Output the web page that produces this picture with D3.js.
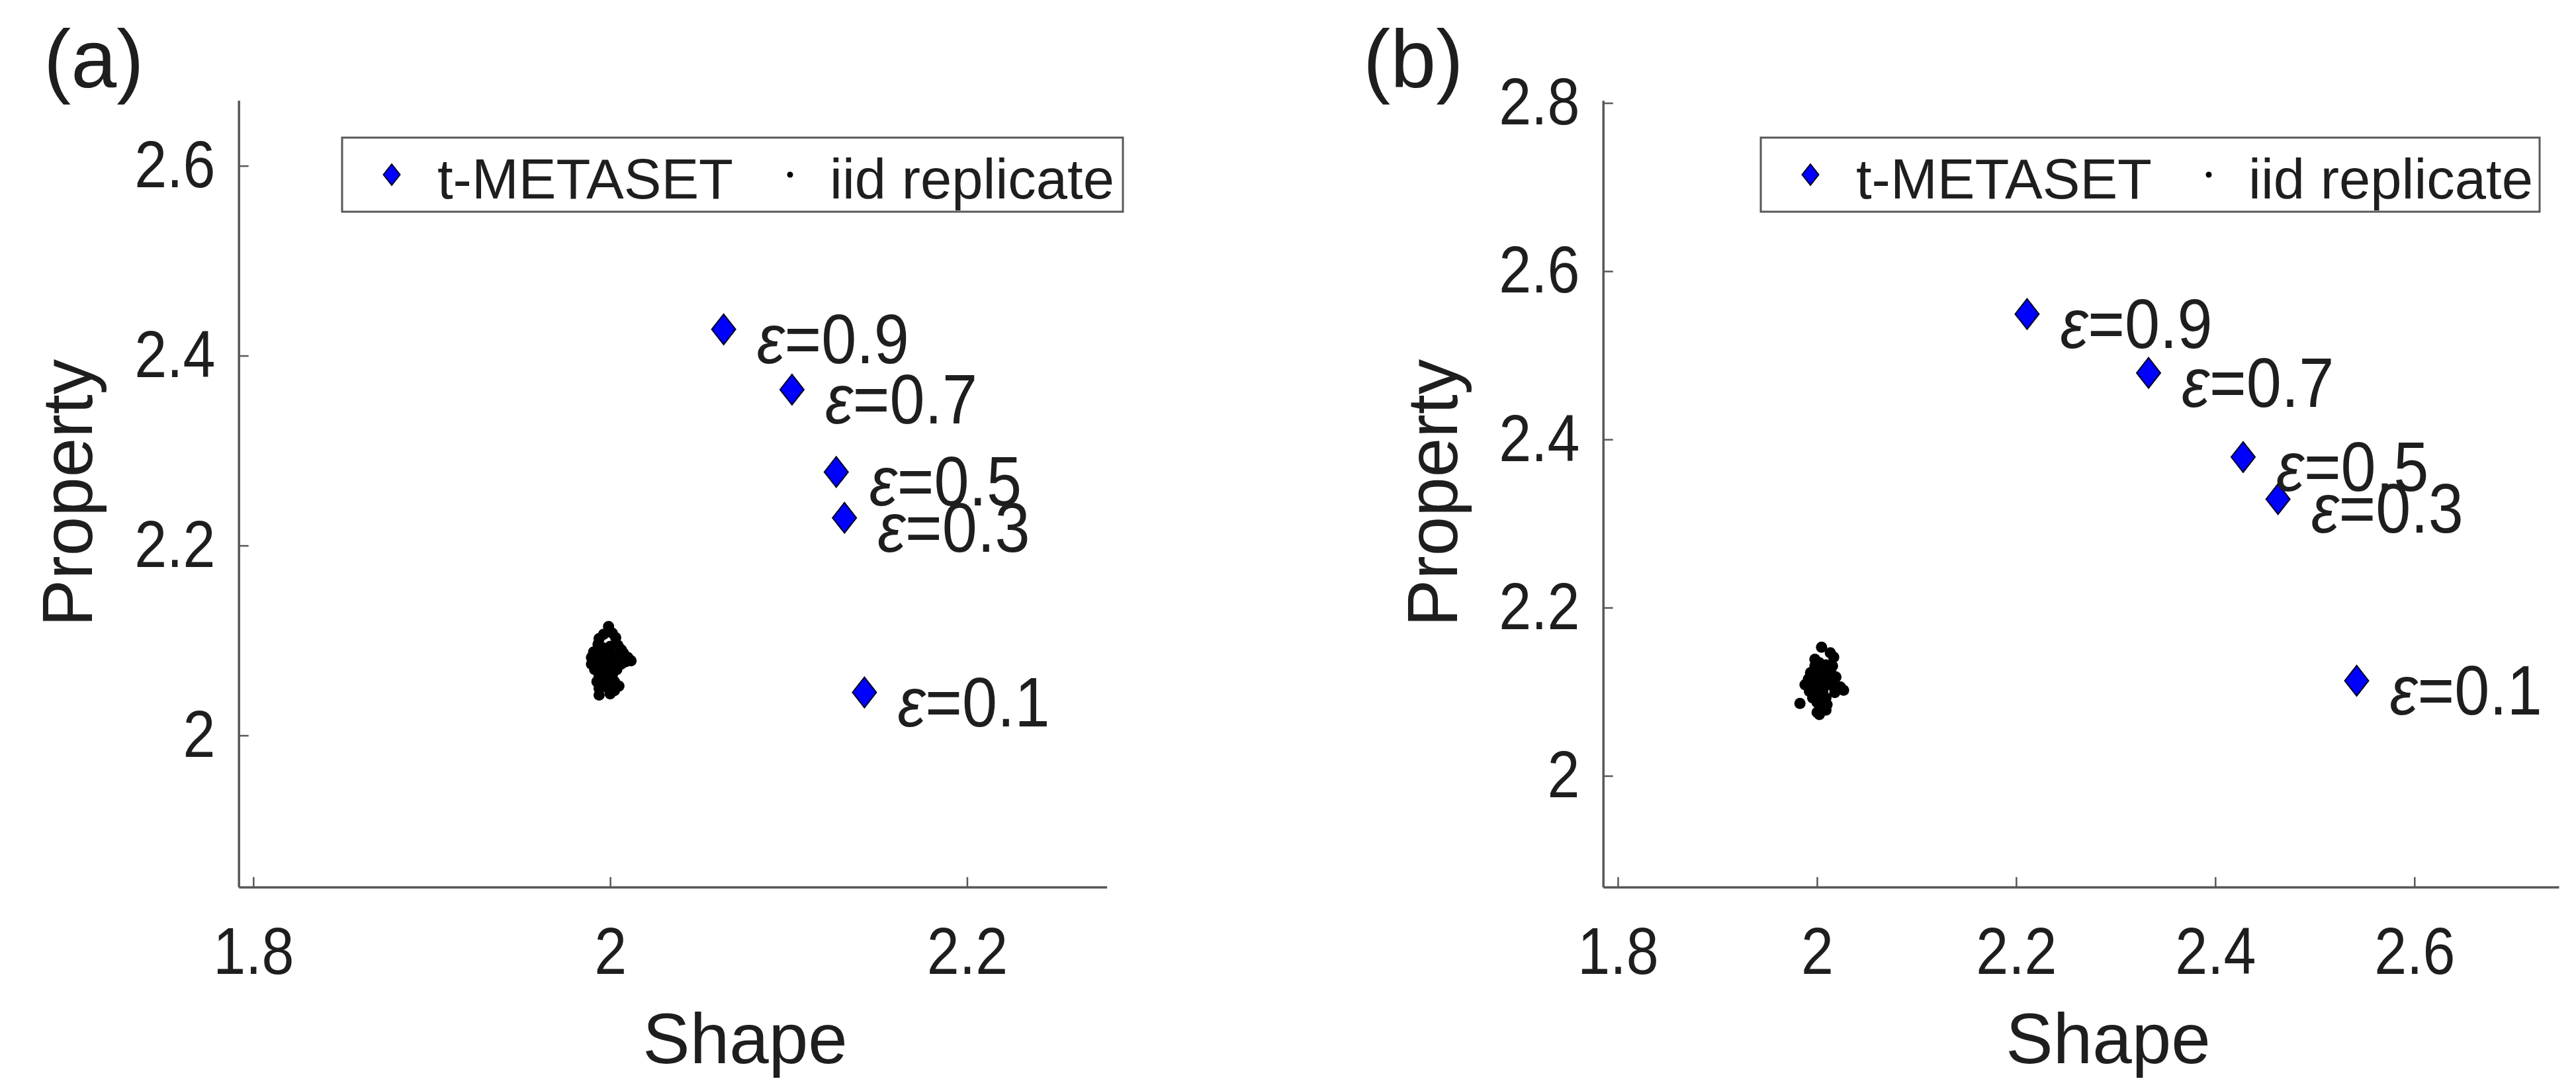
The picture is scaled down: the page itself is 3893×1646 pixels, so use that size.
<!DOCTYPE html>
<html>
<head>
<meta charset="utf-8">
<script src="https://cdn.jsdelivr.net/npm/d3@7"></script>
<style>
  body { margin: 0; background: #fff; }
  svg text { font-family: "Liberation Sans", Arial, sans-serif; fill: #1e1e1e; }
</style>
</head>
<body>
<svg id="chart" width="3893" height="1646"></svg>
<script>
// tick values for both panels
var xTicksA = [1.8, 2, 2.2];
var yTicksA = [2, 2.2, 2.4, 2.6];
var xTicksB = [1.8, 2, 2.2, 2.4, 2.6];
var yTicksB = [2, 2.2, 2.4, 2.6, 2.8];

var epsLabels = ["0.9", "0.7", "0.5", "0.3", "0.1"];
var legendNames = ["t-METASET", "iid replicate"];

// t-METASET points
var metasetShapeA = [2.0636, 2.1019, 2.1267, 2.1313, 2.1425];
var metasetPropA  = [2.4277, 2.3642, 2.2774, 2.2292, 2.0453];
var metasetShapeB = [2.211, 2.333, 2.428, 2.463, 2.542];
var metasetPropB  = [2.549, 2.479, 2.379, 2.329, 2.113];

// iid replicate clouds (estimated point by point)
var iidShapeA = [1.9991,1.9963,2.0012,1.9938,2.0031,1.9932,2.0043,1.9956,2.0000,2.0062,1.9907,1.9895,1.9926,1.9963,2.0000,2.0037,2.0074,2.0099,2.0117,1.9895,1.9926,1.9956,1.9994,2.0024,2.0062,2.0086,1.9913,1.9950,2.0000,2.0037,1.9938,1.9975,2.0012,1.9926,1.9963,2.0024,2.0049,1.9938,1.9981,2.0024,1.9938,2.0000,1.9981];
var iidPropA  = [2.1146,2.1065,2.1077,2.1019,2.1030,2.0961,2.0949,2.0926,2.0937,2.0902,2.0879,2.0821,2.0833,2.0844,2.0868,2.0844,2.0868,2.0821,2.0786,2.0751,2.0751,2.0775,2.0786,2.0775,2.0751,2.0775,2.0693,2.0705,2.0728,2.0693,2.0624,2.0612,2.0635,2.0566,2.0554,2.0566,2.0519,2.0496,2.0508,2.0473,2.0426,2.0438,2.0705];
var iidShapeB = [2.0046,2.0134,2.0168,1.9979,2.0024,1.9979,2.0090,2.0156,1.9935,2.0001,2.0068,2.0145,2.0190,1.9913,1.9979,2.0046,2.0112,1.9880,1.9946,2.0012,2.0079,2.0156,2.0234,2.0267,1.9924,1.9990,2.0057,2.0179,1.9957,2.0024,2.0090,1.9829,2.0001,2.0101,2.0046,2.0090,2.0024,2.0001];
var iidPropB  = [2.1529,2.1463,2.1411,2.1385,2.1345,2.1306,2.1319,2.1306,2.1227,2.1240,2.1227,2.1214,2.1175,2.1149,2.1162,2.1149,2.1135,2.1083,2.1083,2.1070,2.1070,2.1070,2.1057,2.1018,2.1004,2.0991,2.1004,2.0991,2.0926,2.0913,2.0926,2.0860,2.0873,2.0847,2.0795,2.0782,2.0729,2.0755];

var svg = d3.select("#chart");
var axisColor = "#585858";

var panels = [
  { tag: "(a)", tagX: 66, xDom: [1.7918, 2.2783], yDom: [1.8403, 2.6689], left: 360.7, right: 1672.6,
    xTicks: xTicksA, yTicks: yTicksA, mx: metasetShapeA, my: metasetPropA, ix: iidShapeA, iy: iidPropA,
    shapeX: 1126, propX: 139, legX: 517, legW: 1180 },
  { tag: "(b)", tagX: 2060, xDom: [1.7852, 2.745], yDom: [1.8678, 2.8031], left: 2422.7, right: 3867,
    xTicks: xTicksB, yTicks: yTicksB, mx: metasetShapeB, my: metasetPropB, ix: iidShapeB, iy: iidPropB,
    shapeX: 3186, propX: 2202, legX: 2661, legW: 1177 }
];
var plotTop = 151.7, plotBottom = 1340.7;

function diamond(w, h) {
  return "M0," + (-h) + "L" + w + ",0L0," + h + "L" + (-w) + ",0Z";
}

panels.forEach(function(p) {
  var x = d3.scaleLinear().domain(p.xDom).range([p.left, p.right]);
  var y = d3.scaleLinear().domain(p.yDom).range([plotBottom, plotTop]);
  var g = svg.append("g");

  var xAxis = g.append("g").attr("transform", "translate(0," + plotBottom + ")")
    .call(d3.axisBottom(x).tickValues(p.xTicks).tickSize(-15).tickSizeOuter(0).tickPadding(60)
      .tickFormat(function(d) { return String(d); }));
  var yAxis = g.append("g").attr("transform", "translate(" + p.left + ",0)")
    .call(d3.axisLeft(y).tickValues(p.yTicks).tickSize(-15).tickSizeOuter(0).tickPadding(40)
      .tickFormat(function(d) { return String(d); }));

  [xAxis, yAxis].forEach(function(a) {
    a.select(".domain").attr("stroke", axisColor).attr("stroke-width", 3.5);
    a.selectAll(".tick line").attr("stroke", axisColor).attr("stroke-width", 2.5);
    // tick digits in the figure are a little condensed
    a.selectAll(".tick text").attr("font-size", 100).attr("fill", "#1e1e1e")
      .attr("transform", "scale(0.88,1)")
      .style("font-family", "'Liberation Sans', Arial, sans-serif");
  });

  // iid replicate cloud
  g.selectAll(".iid").data(p.ix).enter().append("circle")
    .attr("cx", function(d) { return x(d); })
    .attr("cy", function(d, i) { return y(p.iy[i]); })
    .attr("r", 8.5).attr("fill", "#000");

  // t-METASET markers
  g.selectAll(".meta").data(p.mx).enter().append("path")
    .attr("d", diamond(18, 23))
    .attr("transform", function(d, i) { return "translate(" + x(d) + "," + y(p.my[i]) + ")"; })
    .attr("fill", "#0000ff").attr("stroke", "#000022").attr("stroke-width", 2);

  g.selectAll(".eps").data(p.mx).enter().append("text")
    .attr("transform", function(d, i) {
      return "translate(" + (x(d) + 50) + "," + (y(p.my[i]) + 51) + ") scale(0.9,1)";
    })
    .attr("font-size", 106).attr("fill", "#111")
    .each(function(d, i) {
      var t = d3.select(this);
      t.append("tspan").attr("font-style", "italic").text("\u03b5");
      t.append("tspan").text("=" + epsLabels[i]);
    });

  // legend
  var leg = g.append("g").attr("transform", "translate(" + p.legX + ",208)");
  leg.append("rect").attr("width", p.legW).attr("height", 112)
    .attr("fill", "#fff").attr("stroke", axisColor).attr("stroke-width", 3);
  leg.append("path").attr("d", diamond(12.5, 16)).attr("transform", "translate(75,56)")
    .attr("fill", "#0000ff").attr("stroke", "#000022").attr("stroke-width", 2);
  leg.append("text").attr("x", 144).attr("y", 92).attr("font-size", 85).text(legendNames[0]);
  leg.append("circle").attr("cx", 677).attr("cy", 56).attr("r", 4.5).attr("fill", "#000");
  leg.append("text").attr("x", 737).attr("y", 92).attr("font-size", 85).text(legendNames[1]);

  // axis titles and panel tag
  g.append("text").attr("x", p.shapeX).attr("y", 1607).attr("text-anchor", "middle")
    .attr("font-size", 107).text("Shape");
  g.append("text").attr("transform", "translate(" + p.propX + ",745) rotate(-90)")
    .attr("text-anchor", "middle").attr("font-size", 107).text("Property");
  g.append("text").attr("x", p.tagX).attr("y", 132).attr("font-size", 124).attr("fill", "#000").text(p.tag);
});
</script>
</body>
</html>
